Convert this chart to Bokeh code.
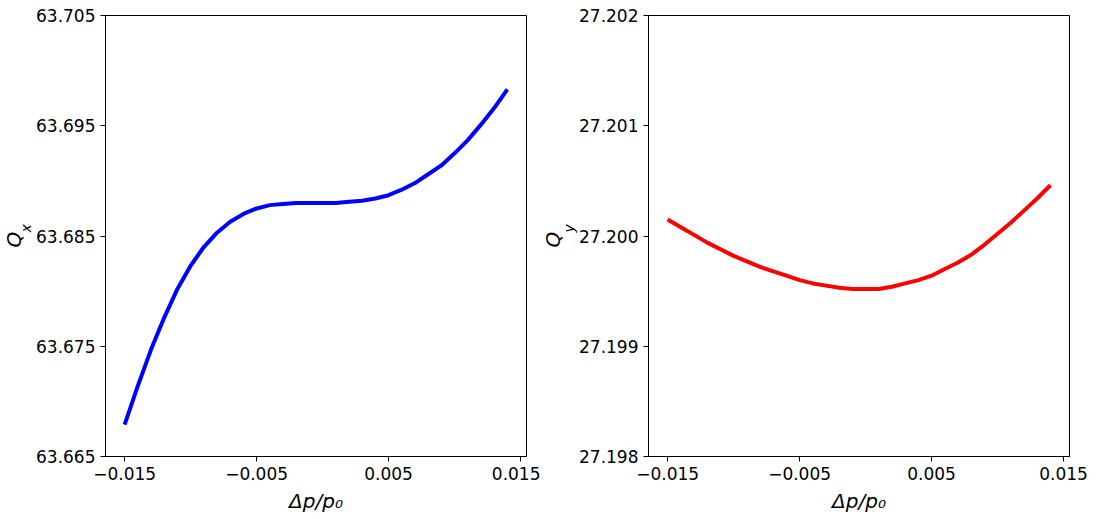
import numpy as np
from bokeh.plotting import figure
from bokeh.layouts import row
from bokeh.models import FixedTicker, NumeralTickFormatter, Range1d, Title
from bokeh.embed import file_html
from bokeh.resources import INLINE

# ---- data ----
dp = [-0.015, -0.014, -0.013, -0.012, -0.011, -0.010, -0.009, -0.008, -0.007, -0.006,
      -0.005, -0.004, -0.003, -0.002, -0.001, 0.000, 0.001, 0.002, 0.003, 0.004,
      0.005, 0.006, 0.007, 0.008, 0.009, 0.010, 0.011, 0.012, 0.013, 0.014]
qx = [63.6679, 63.6714, 63.6747, 63.6776, 63.6802, 63.6823, 63.6840, 63.6853, 63.6863, 63.6870,
      63.6875, 63.6878, 63.6879, 63.6880, 63.6880, 63.6880, 63.6880, 63.6881, 63.6882, 63.6884,
      63.6887, 63.6892, 63.6898, 63.6906, 63.6914, 63.6925, 63.6937, 63.6951, 63.6966, 63.6983]
qy = [27.20015, 27.20008, 27.20001, 27.19994, 27.19988, 27.19982, 27.19977, 27.19972, 27.19968, 27.19964,
      27.19960, 27.19957, 27.19955, 27.19953, 27.19952, 27.19952, 27.19952, 27.19954, 27.19957, 27.19960,
      27.19964, 27.19970, 27.19976, 27.19983, 27.19992, 27.20002, 27.20012, 27.20023, 27.20034, 27.20046]

x_ticks = [-0.015, -0.005, 0.005, 0.015]
x_tick_labels = ["\u22120.015", "\u22120.005", "0.005", "0.015"]
qx_ticks = [63.665, 63.675, 63.685, 63.695, 63.705]
qy_ticks = [27.198, 27.199, 27.200, 27.201, 27.202]

FONT = "DejaVu Sans"


def make_fig(y, yticks, color, sub, left, right, q_standoff):
    p = figure(frame_width=421, frame_height=441, output_backend="svg",
               toolbar_location=None, tools="",
               min_border_left=left, min_border_right=right,
               min_border_top=15, min_border_bottom=63,
               x_range=Range1d(-0.01645, 0.01545),
               y_range=Range1d(yticks[0], yticks[-1]))
    p.line(dp, y, line_color=color, line_width=4, line_join="round")
    p.xgrid.visible = False
    p.ygrid.visible = False
    p.outline_line_color = "black"
    p.outline_line_width = 1
    p.outline_line_alpha = 1
    p.xaxis.ticker = FixedTicker(ticks=x_ticks)
    p.xaxis.major_label_overrides = {t: l for t, l in zip(x_ticks, x_tick_labels)}
    p.yaxis.ticker = FixedTicker(ticks=yticks)
    p.yaxis.formatter = NumeralTickFormatter(format="0.000")
    for ax in (p.xaxis[0], p.yaxis[0]):
        ax.minor_tick_line_color = None
        ax.major_tick_in = 0
        ax.major_tick_out = 5
        ax.major_tick_line_color = "black"
        ax.axis_line_color = "black"
        ax.major_label_text_font = FONT
        ax.major_label_text_font_size = "17px"
        ax.major_label_text_color = "black"
        ax.major_label_standoff = 5
    p.xaxis.axis_label = "\u0394p/p\u2080"
    p.xaxis.axis_label_text_font = FONT
    p.xaxis.axis_label_text_font_size = "20px"
    p.xaxis.axis_label_text_font_style = "italic"
    p.xaxis.axis_label_text_color = "black"
    p.xaxis.axis_label_standoff = 6
    # y-axis label "Q" with subscript, as two stacked left-side titles
    p.add_layout(Title(text=sub, text_font=FONT, text_font_size="14px",
                       text_font_style="italic", text_color="black",
                       align="left", offset=224, standoff=0), "left")
    p.add_layout(Title(text="Q", text_font=FONT, text_font_size="20px",
                       text_font_style="italic", text_color="black",
                       align="left", offset=209, standoff=q_standoff), "left")
    return p


p1 = make_fig(qx, qx_ticks, "#0000ff", "x", 105, 14, -20)
p2 = make_fig(qy, qy_ticks, "#ff0000", "y", 108, 32, -13)

layout = row(p1, p2, spacing=0)
open("out.html", "w").write(file_html(layout, INLINE))
